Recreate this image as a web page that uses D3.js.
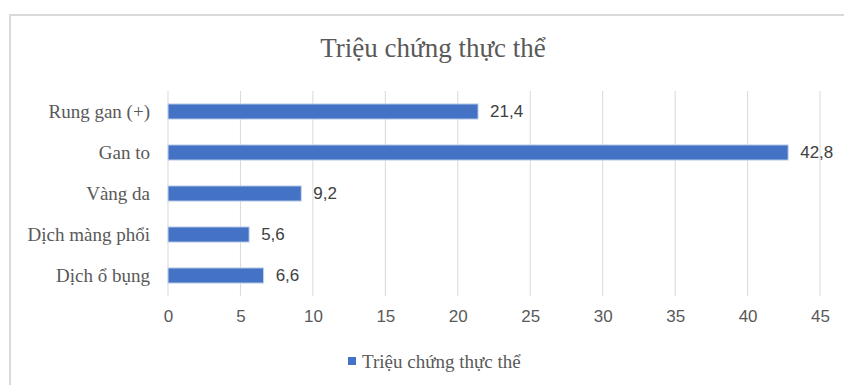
<!DOCTYPE html>
<html>
<head>
<meta charset="utf-8">
<script src="https://cdn.jsdelivr.net/npm/d3@7"></script>
<style>
  html, body { margin: 0; padding: 0; background: #fff; }
  svg { display: block; }
</style>
</head>
<body>
<script>
var title = "Triệu chứng thực thể";
var seriesName = "Triệu chứng thực thể";
var categories = ["Rung gan (+)", "Gan to", "Vàng da", "Dịch màng phổi", "Dịch ổ bụng"];
var values = [21.4, 42.8, 9.2, 5.6, 6.6];
var ticks = [0, 5, 10, 15, 20, 25, 30, 35, 40, 45];

var W = 844, H = 385;
var margin = {top: 91, right: 24, bottom: 89, left: 168};

var svg = d3.select(document.body).append('svg')
    .attr('width', W).attr('height', H);

// khung biểu đồ (chỉ thấy cạnh trái và trên)
svg.append('path')
    .attr('d', 'M10,' + H + ' V15 H' + W)
    .attr('fill', 'none')
    .attr('stroke', '#d9d9d9')
    .attr('stroke-width', 2);

svg.append('text')
    .attr('x', 433).attr('y', 57)
    .attr('text-anchor', 'middle')
    .style('font-family', '"Liberation Serif", "Times New Roman", serif')
    .style('font-size', '27px')
    .style('fill', '#595959')
    .text(title);

var x = d3.scaleLinear().domain([0, 45]).range([margin.left, margin.left + 45 * 14.49]);
var y = d3.scaleBand().domain(categories)
    .range([margin.top, H - margin.bottom])
    .paddingInner(0.63).paddingOuter(0.315);

// lưới dọc
svg.append('g').selectAll('line').data(ticks).enter()
    .append('line')
    .attr('x1', function(d){ return x(d); })
    .attr('x2', function(d){ return x(d); })
    .attr('y1', margin.top)
    .attr('y2', H - margin.bottom)
    .attr('stroke', '#d9d9d9')
    .attr('stroke-width', 1);

// nhãn trục x
var xAxis = d3.axisBottom(x).tickValues(ticks).tickSize(0).tickPadding(0);
var gx = svg.append('g')
    .attr('transform', 'translate(0,' + (H - margin.bottom + 14) + ')')
    .call(xAxis);
gx.select('.domain').remove();
gx.selectAll('text')
    .attr('dy', '0.71em')
    .style('font-family', '"Liberation Sans", Arial, sans-serif')
    .style('font-size', '17px')
    .style('fill', '#595959');

// nhãn trục y
var yAxis = d3.axisLeft(y).tickSize(0).tickPadding(18);
var gy = svg.append('g')
    .attr('transform', 'translate(' + margin.left + ',0)')
    .call(yAxis);
gy.select('.domain').remove();
gy.selectAll('text')
    .style('font-family', '"Liberation Serif", "Times New Roman", serif')
    .style('font-size', '19px')
    .style('fill', '#595959');

// thanh
svg.append('g').selectAll('rect').data(values).enter()
    .append('rect')
    .attr('x', x(0))
    .attr('y', function(d, i){ return y(categories[i]); })
    .attr('width', function(d){ return x(d) - x(0); })
    .attr('height', y.bandwidth())
    .attr('fill', '#4472c4')
    .attr('stroke', '#c9d6ee')
    .attr('stroke-width', 1);

// nhãn giá trị
svg.append('g').selectAll('text').data(values).enter()
    .append('text')
    .attr('x', function(d){ return x(d) + 12; })
    .attr('y', function(d, i){ return y(categories[i]) + y.bandwidth() / 2; })
    .attr('dy', '0.35em')
    .style('font-family', '"Liberation Sans", Arial, sans-serif')
    .style('font-size', '17px')
    .style('fill', '#404040')
    .text(function(d){ return String(d).replace('.', ','); });

// chú giải
var lg = svg.append('g').attr('transform', 'translate(348,361)');
lg.append('rect')
    .attr('x', 0).attr('y', -4)
    .attr('width', 8).attr('height', 8)
    .attr('fill', '#4472c4');
lg.append('text')
    .attr('x', 14).attr('y', 0)
    .attr('dy', '0.35em')
    .style('font-family', '"Liberation Serif", "Times New Roman", serif')
    .style('font-size', '19px')
    .style('fill', '#595959')
    .text(seriesName);
</script>
</body>
</html>
